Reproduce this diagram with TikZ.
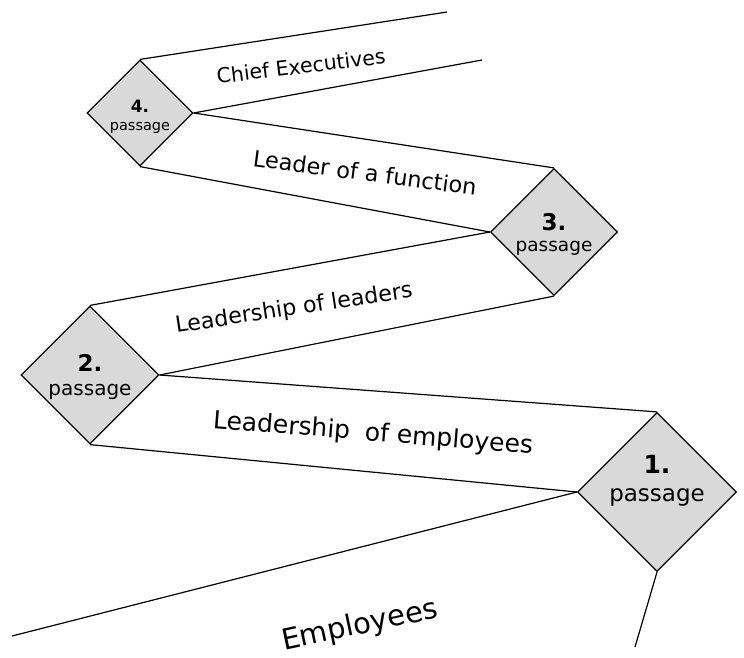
\documentclass[tikz,border=0pt]{standalone}
\usepackage{fontspec}
\setmainfont{DejaVu Sans}
\usetikzlibrary{shapes.geometric}
\definecolor{gatefill}{RGB}{217,217,217}
\newcommand{\fsz}[1]{\fontsize{#1}{#1}\selectfont}
\begin{document}
\begin{tikzpicture}[x=1pt,y=-1pt,
  gate/.style={diamond,draw,line width=1.2pt,fill=gatefill,inner sep=0pt,aspect=1,line join=miter},
  edge/.style={line width=1.2pt},
  lbl/.style={inner sep=0pt,anchor=center}]
\useasboundingbox (0,0) rectangle (744,657);
% diamonds
\node[gate,minimum width=159pt,minimum height=159pt] (d1) at (657,492) {};
\node[gate,minimum width=138pt,minimum height=138pt] (d2) at (90,375) {};
\node[gate,minimum width=127pt,minimum height=127pt] (d3) at (554,232) {};
\node[gate,minimum width=106pt,minimum height=106pt] (d4) at (140,113) {};
% free ends
\coordinate (e4a) at (447,12);
\coordinate (e4b) at (482,60);
\coordinate (e1a) at (12,636);
\coordinate (e1b) at (635,647);
% connectors
\draw[edge] (d4.north) -- (e4a);
\draw[edge] (d4.east) -- (e4b);
\draw[edge] (d4.east) -- (d3.north);
\draw[edge] (d4.south) -- (d3.west);
\draw[edge] (d3.west) -- (d2.north);
\draw[edge] (d3.south) -- (d2.east);
\draw[edge] (d2.east) -- (d1.north);
\draw[edge] (d2.south) -- (d1.west);
\draw[edge] (d1.west) -- (e1a);
\draw[edge] (d1.south) -- (e1b);
% diamond labels
\node[lbl] (n1) at (657,464) {\fsz{25}\bfseries 1.};
\node[lbl] (p1) at (657,497) {\fsz{23}passage};
\node[lbl] (n2) at (90,363) {\fsz{23}\bfseries 2.};
\node[lbl] (p2) at (90,392) {\fsz{20}passage};
\node[lbl] (n3) at (554,222) {\fsz{23}\bfseries 3.};
\node[lbl] (p3) at (554,248) {\fsz{18.5}passage};
\node[lbl] (n4) at (140,106.5) {\fsz{17}\bfseries 4.};
\node[lbl] (p4) at (140,127.5) {\fsz{14.5}passage};
% level labels
\node[lbl,rotate=7] (t4) at (301,66) {\fsz{20.5}Chief Executives};
\node[lbl,rotate=-7.5] (t3) at (365,172.5) {\fsz{22.4}Leader of a function};
\node[lbl,rotate=8.6] (t2) at (294,309) {\fsz{22.2}Leadership of leaders};
\node[lbl,rotate=-4.6] (t1) at (373,434) {\fsz{25}Leadership\hspace{7pt} of employees};
\node[lbl,rotate=12] (t0) at (360,626) {\fsz{29}Employees};
\end{tikzpicture}
\end{document}
